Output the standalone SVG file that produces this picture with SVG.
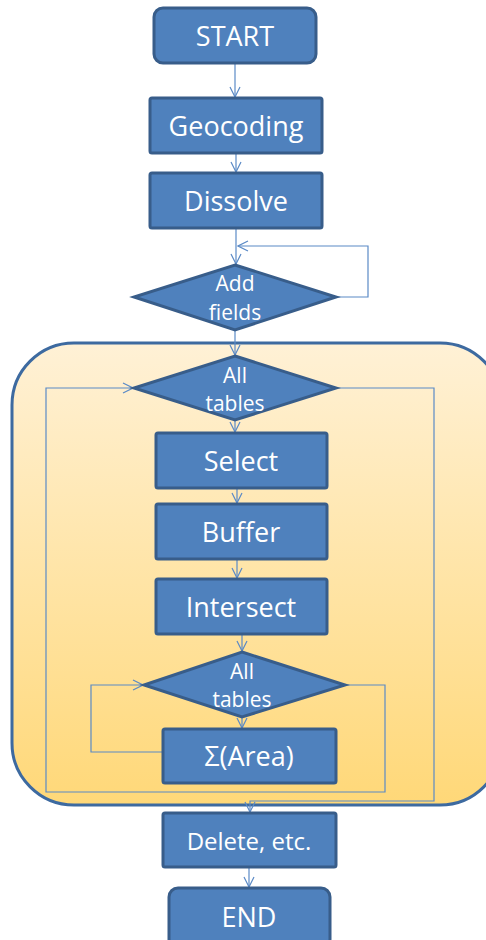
<svg xmlns="http://www.w3.org/2000/svg" width="486" height="940" viewBox="0 0 486 940">
  <defs>
    <linearGradient id="loopFill" x1="0" y1="0" x2="0" y2="1">
      <stop offset="0" stop-color="#fff1d6"/>
      <stop offset="1" stop-color="#ffd878"/>
    </linearGradient>
    <marker id="arrow" viewBox="0 0 12 12" refX="11" refY="6" markerWidth="12" markerHeight="12" markerUnits="userSpaceOnUse" orient="auto">
      <path d="M1,1 L11,6 L1,11" fill="none" stroke="#5b8ac6" stroke-width="1.2"/>
    </marker>
    <style>
      .box { fill: #4f81bd; stroke: #385d8a; stroke-width: 3; }
      .lbl { fill: #ffffff; font-family: "Open Sans", "Liberation Sans", sans-serif; font-size: 27px; text-anchor: middle; }
      .dlbl { fill: #ffffff; font-family: "Open Sans", "Liberation Sans", sans-serif; font-size: 21px; text-anchor: middle; }
      .wire { fill: none; stroke: #5b8ac6; stroke-width: 1.2; }
      .wire.arr { marker-end: url(#arrow); }
    </style>
  </defs>

  <!-- loop region -->
  <g id="loop-region">
    <rect x="12" y="343" width="490" height="462" rx="62" ry="62" fill="url(#loopFill)" stroke="#3d6aa0" stroke-width="3"/>
  </g>

  <!-- connectors -->
  <g id="connectors">
    <path class="wire arr" d="M235,63 V97"/>
    <path class="wire arr" d="M236,153 V172"/>
    <path class="wire arr" d="M236,228 V264"/>
    <path class="wire arr" d="M336,297 H368 V246 H238"/>
    <path class="wire arr" d="M235,330 V355"/>
    <path class="wire arr" d="M235,420 V432"/>
    <path class="wire arr" d="M237,488 V503"/>
    <path class="wire arr" d="M237,559 V578"/>
    <path class="wire arr" d="M242,634 V651"/>
    <path class="wire arr" d="M242,717 V728"/>
    <path class="wire arr" d="M163,752 H91 V685 H143"/>
    <path class="wire arr" d="M345,685 H385 V792 H46 V388 H133"/>
    <path class="wire arr" d="M336,388 H434 V801 H250 V812"/>
    <path class="wire arr" d="M249,867 V887"/>
  </g>

  <g id="start">
    <rect class="box" x="154" y="8" width="162" height="55" rx="9" ry="9"/>
    <text class="lbl" x="235" y="46">START</text>
  </g>
  <g id="geocoding">
    <rect class="box" x="150" y="98" width="172" height="55" rx="2"/>
    <text class="lbl" x="236" y="136">Geocoding</text>
  </g>
  <g id="dissolve">
    <rect class="box" x="150" y="173" width="172" height="55" rx="2"/>
    <text class="lbl" x="236" y="211">Dissolve</text>
  </g>
  <g id="add-fields">
    <polygon class="box" points="235,265 336,297 235,330 134,297"/>
    <text class="dlbl" x="235" y="291">Add</text>
    <text class="dlbl" x="235" y="320">fields</text>
  </g>
  <g id="all-tables-outer">
    <polygon class="box" points="235,356 336,388 235,420 134,388"/>
    <text class="dlbl" x="235" y="383">All</text>
    <text class="dlbl" x="235" y="411">tables</text>
  </g>
  <g id="select">
    <rect class="box" x="156" y="433" width="171" height="55" rx="2"/>
    <text class="lbl" x="241" y="471">Select</text>
  </g>
  <g id="buffer">
    <rect class="box" x="156" y="504" width="171" height="55" rx="2"/>
    <text class="lbl" x="241" y="542">Buffer</text>
  </g>
  <g id="intersect">
    <rect class="box" x="156" y="579" width="171" height="55" rx="2"/>
    <text class="lbl" x="241" y="617">Intersect</text>
  </g>
  <g id="all-tables-inner">
    <polygon class="box" points="242,652 345,685 242,717 144,685"/>
    <text class="dlbl" x="242" y="679">All</text>
    <text class="dlbl" x="242" y="707">tables</text>
  </g>
  <g id="sum-area">
    <rect class="box" x="163" y="729" width="173" height="54" rx="2"/>
    <text class="lbl" x="249" y="766">Σ(Area)</text>
  </g>
  <g id="delete">
    <rect class="box" x="163" y="813" width="173" height="54" rx="2"/>
    <text class="dlbl" x="249" y="850" style="font-size:24px">Delete, etc.</text>
  </g>
  <g id="end">
    <rect class="box" x="169" y="888" width="161" height="60" rx="9" ry="9"/>
    <text class="lbl" x="249" y="927">END</text>
  </g>
</svg>
